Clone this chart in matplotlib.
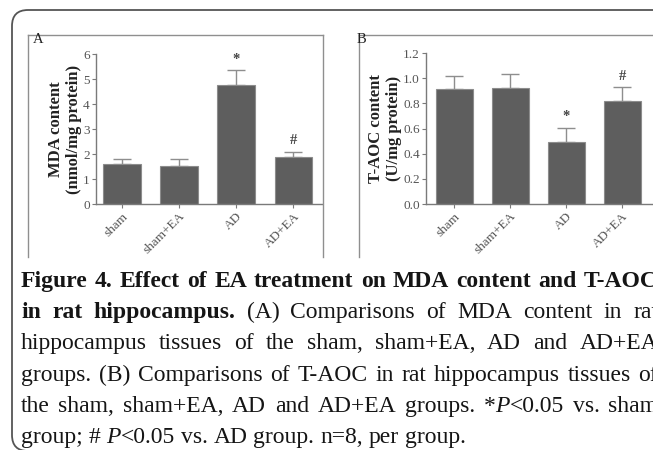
import numpy as np
import matplotlib
matplotlib.use('Agg')
import matplotlib.pyplot as plt
from matplotlib.transforms import IdentityTransform
from matplotlib.patches import FancyBboxPatch
from matplotlib.lines import Line2D

# ---------------- data ----------------
groups = ['sham', 'sham+EA', 'AD', 'AD+EA']
mda_mean = [1.61, 1.53, 4.76, 1.89]
mda_err = [0.19, 0.27, 0.61, 0.21]
mda_marks = ['', '', '*', '#']
taoc_mean = [0.914, 0.925, 0.495, 0.82]
taoc_err = [0.103, 0.105, 0.112, 0.11]
taoc_marks = ['', '', '*', '#']
mda_yticks = [0, 1, 2, 3, 4, 5, 6]
mda_yticklabels = ['0', '1', '2', '3', '4', '5', '6']
taoc_yticks = [0.0, 0.2, 0.4, 0.6, 0.8, 1.0, 1.2]
taoc_yticklabels = ['0.0', '0.2', '0.4', '0.6', '0.8', '1.0', '1.2']

caption_lines = [
    [[("Figure", 'b')], [("4.", 'b')], [("Effect", 'b')], [("of", 'b')], [("EA", 'b')],
     [("treatment", 'b')], [("on", 'b')], [("MDA", 'b')], [("content", 'b')], [("and", 'b')],
     [("T-AOC", 'b')]],
    [[("in", 'b')], [("rat", 'b')], [("hippocampus.", 'b')], [("(A)", 'r')], [("Comparisons", 'r')],
     [("of", 'r')], [("MDA", 'r')], [("content", 'r')], [("in", 'r')], [("rat", 'r')]],
    [[(w, 'r')] for w in "hippocampus tissues of the sham, sham+EA, AD and AD+EA".split()],
    [[(w, 'r')] for w in "groups. (B) Comparisons of T-AOC in rat hippocampus tissues of".split()],
    [[(w, 'r')] for w in "the sham, sham+EA, AD and AD+EA groups.".split()]
    + [[("*", 'r'), ("P", 'i'), ("<0.05", 'r')], [("vs.", 'r')], [("sham", 'r')]],
    [[("group;", 'r')], [("#", 'r')], [("P", 'i'), ("<0.05", 'r')]]
    + [[(w, 'r')] for w in "vs. AD group. n=8, per group.".split()],
]

# ---------------- figure ----------------
W, H = 653, 450
fig = plt.figure(figsize=(W / 100, H / 100), dpi=100)
SERIF = 'Liberation Serif'
ID = IdentityTransform()

BAR_C = '#5e5e5e'
EDGE_C = '#8c8c8c'
ERR_C = '#8e8e8e'
SPINE_C = '#7a7a7a'
TICK_C = '#555555'


def panel(rect_px, means, errs, marks, ylim, yticks, yticklabels, ylabel, label_x, xlim):
    l, t, r, b = rect_px
    ax = fig.add_axes([l / W, 1 - b / H, (r - l) / W, (b - t) / H])
    x = np.arange(len(groups))
    ax.errorbar(x, means, yerr=[np.zeros(len(x)), errs], fmt='none', ecolor=ERR_C,
                elinewidth=1.0, capsize=6.5, capthick=1.0, zorder=1)
    ax.bar(x, means, width=0.66, color=BAR_C, edgecolor=EDGE_C, linewidth=0.8, zorder=2)
    for xi, m, e, mk in zip(x, means, errs, marks):
        if mk:
            ax.annotate(mk, (xi, m + e), xytext=(0, 3), textcoords='offset points',
                        ha='center', va='bottom', fontsize=10.5, color='#444444',
                        family=SERIF, fontweight='bold')
    ax.set_xlim(*xlim)
    ax.set_ylim(*ylim)
    ax.set_yticks(yticks)
    ax.set_yticklabels(yticklabels)
    ax.set_xticks(x)
    ax.set_xticklabels(groups, rotation=45, ha='right', va='top', rotation_mode='anchor')
    for s in ['top', 'right']:
        ax.spines[s].set_visible(False)
    for s in ['left', 'bottom']:
        ax.spines[s].set_color(SPINE_C)
        ax.spines[s].set_linewidth(1.0)
    ax.tick_params(axis='both', direction='out', length=3, width=0.8, color=SPINE_C,
                   labelcolor=TICK_C, labelsize=9.5, pad=1.5)
    for lab in ax.get_xticklabels() + ax.get_yticklabels():
        lab.set_family(SERIF)
    ax.set_facecolor('none')
    cy = (t + b) / 2
    fig.text(label_x, H - cy, ylabel, transform=ID, rotation=90, ha='center', va='center',
             family=SERIF, fontweight='bold', fontsize=12, color='#222222', linespacing=1.15)
    return ax


panel((96, 54, 322, 204), mda_mean, mda_err, mda_marks, (0, 6), mda_yticks, mda_yticklabels,
      'MDA content\n(nmol/mg protein)', 65, (-0.45, 3.5))
panel((426, 53, 653, 204), taoc_mean, taoc_err, taoc_marks, (0, 1.2), taoc_yticks,
      taoc_yticklabels, 'T-AOC content\n(U/mg protein)', 385, (-0.5, 3.55))

# panel letters
fig.text(33, H - 43, 'A', transform=ID, family=SERIF, fontsize=10.5, color='#222222',
         ha='left', va='baseline')
fig.text(357, H - 43, 'B', transform=ID, family=SERIF, fontsize=10.5, color='#222222',
         ha='left', va='baseline')

# frames
fig.add_artist(FancyBboxPatch((12, -1), 720, 441, boxstyle='round,pad=0,rounding_size=16',
                              transform=ID, facecolor='none', edgecolor='#555555', linewidth=1.3))
frame_c = '#8f8f8f'
for xs, ys in [((28, 323), (35, 35)), ((28, 28), (35, 257)), ((323, 323), (35, 257)),
               ((359, 700), (35, 35)), ((359, 359), (35, 257))]:
    fig.add_artist(Line2D(xs, [H - y for y in ys], transform=ID, color=frame_c, linewidth=1.0))

# ---------------- caption ----------------
FS = 17
styles = {
    'r': dict(family=SERIF, fontsize=FS, color='#151515'),
    'b': dict(family=SERIF, fontsize=FS, color='#151515', fontweight='bold'),
    'i': dict(family=SERIF, fontsize=FS, color='#151515', style='italic'),
}
renderer = fig.canvas.get_renderer()


def width(text, st):
    t = fig.text(0, 0, text, transform=ID, **styles[st])
    w = t.get_window_extent(renderer).width
    t.remove()
    return w


space_w = width('x x', 'r') - width('xx', 'r')
x0, x1 = 21, 658
base0, dy = 287, 31.2
for i, line in enumerate(caption_lines):
    wws = [[width(s, st) for s, st in word] for word in line]
    totals = [sum(w) for w in wws]
    if i < len(caption_lines) - 1:
        gap = (x1 - x0 - sum(totals)) / (len(line) - 1)
    else:
        gap = space_w
    x = x0
    y = H - (base0 + i * dy)
    for word, ws in zip(line, wws):
        for (s, st), w in zip(word, ws):
            fig.text(x, y, s, transform=ID, ha='left', va='baseline', **styles[st])
            x += w
        x += gap

fig.savefig('out.png', dpi=100)
